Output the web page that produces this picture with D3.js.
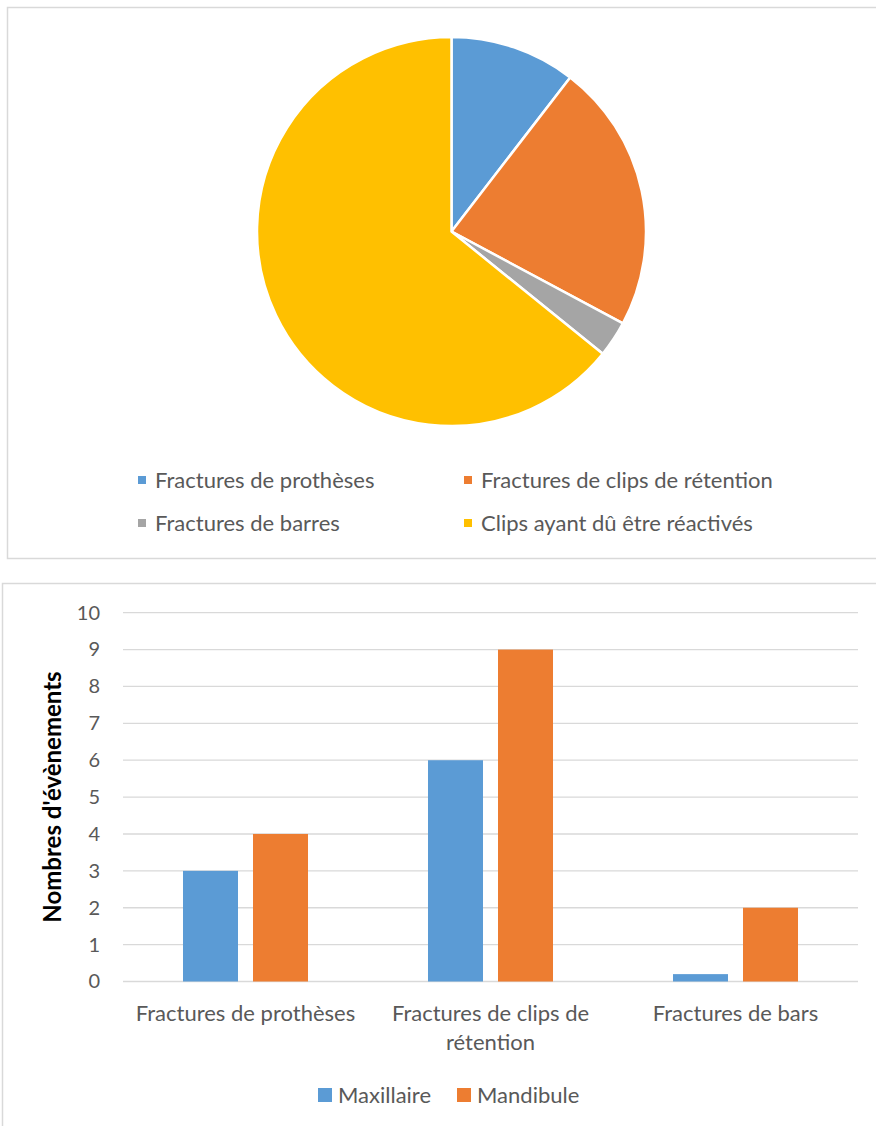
<!DOCTYPE html>
<html>
<head>
<meta charset="utf-8">
<script src="https://cdn.jsdelivr.net/npm/d3@7"></script>
<style>
  body { margin: 0; background: #fff; }
  svg { display: block; font-family: Lato, "Open Sans", sans-serif; }
</style>
</head>
<body>
<div id="chart"></div>
<script>
// pie data
var pieLabels = ["Fractures de prothèses", "Fractures de clips de rétention", "Fractures de barres", "Clips ayant dû être réactivés"];
var pieValues = [7, 15, 2, 43];
var pieColors = ["#5B9BD5", "#ED7D31", "#A5A5A5", "#FFC000"];

// bar data
var barCategories = ["Fractures de prothèses", "Fractures de clips de rétention", "Fractures de bars"];
var seriesNames = ["Maxillaire", "Mandibule"];
var maxillaire = [3, 6, 0.2];
var mandibule = [4, 9, 2];
var seriesColors = ["#5B9BD5", "#ED7D31"];
var yTicks = [0, 1, 2, 3, 4, 5, 6, 7, 8, 9, 10];

var W = 876, H = 1126;
var textColor = "#595959";
var gridColor = "#D9D9D9";

var svg = d3.select("#chart").append("svg")
  .attr("width", W)
  .attr("height", H);

// chart frames
svg.append("rect")
  .attr("x", 7.5).attr("y", 7.5)
  .attr("width", 880).attr("height", 551)
  .attr("fill", "none").attr("stroke", gridColor).attr("stroke-width", 1.5);

svg.append("rect")
  .attr("x", 2.5).attr("y", 583.5)
  .attr("width", 890).attr("height", 560)
  .attr("fill", "none").attr("stroke", gridColor).attr("stroke-width", 1.5);

drawPie();
drawBars();

function drawPie() {
  var cx = 451.5, cy = 231.5, r = 194.5;
  var pie = d3.pie().sort(null).value(function(d) { return d; });
  var arc = d3.arc().innerRadius(0).outerRadius(r);

  var g = svg.append("g").attr("transform", "translate(" + cx + "," + cy + ")");
  g.selectAll("path")
    .data(pie(pieValues))
    .enter().append("path")
      .attr("d", arc)
      .attr("fill", function(d, i) { return pieColors[i]; })
      .attr("stroke", "#fff")
      .attr("stroke-width", 2.5)
      .attr("stroke-linejoin", "round");

  // legend, 2 columns
  var colX = [138, 464];
  var rowY = [480, 523];
  var leg = svg.append("g").attr("class", "pie-legend");
  pieLabels.forEach(function(lab, i) {
    var x = colX[i % 2], y = rowY[Math.floor(i / 2)];
    leg.append("rect")
      .attr("x", x).attr("y", y - 4)
      .attr("width", 8).attr("height", 8)
      .attr("fill", pieColors[i]);
    leg.append("text")
      .attr("x", x + 17).attr("y", y)
      .attr("dy", "0.35em")
      .attr("fill", textColor)
      .style("font-size", "22px")
      .text(lab);
  });
}

function drawBars() {
  var left = 123, right = 858, top = 612.7, bottom = 981.5;

  var x0 = d3.scaleBand().domain(barCategories).range([left, right]).padding(0);
  var x1 = d3.scaleBand().domain(seriesNames).range([0, x0.bandwidth()])
    .paddingInner(0.2143).paddingOuter(0.857);
  var y = d3.scaleLinear().domain([0, 10]).range([bottom, top]);

  // gridlines
  svg.append("g").selectAll("line")
    .data(yTicks)
    .enter().append("line")
      .attr("x1", left).attr("x2", right)
      .attr("y1", function(d) { return y(d); })
      .attr("y2", function(d) { return y(d); })
      .attr("stroke", gridColor)
      .attr("stroke-width", 1.3);

  // y axis labels
  var yAxis = d3.axisLeft(y).tickValues(yTicks).tickSize(0).tickPadding(0);
  var ya = svg.append("g").attr("transform", "translate(100,0)").call(yAxis);
  ya.select(".domain").remove();
  ya.selectAll("text")
    .attr("fill", textColor)
    .style("font-size", "20px")
    .style("font-family", "Lato, 'Open Sans', sans-serif");

  // bars
  var rows = barCategories.map(function(c, i) {
    return [maxillaire[i], mandibule[i]];
  });
  var groups = svg.append("g").selectAll("g")
    .data(rows)
    .enter().append("g")
      .attr("transform", function(d, i) { return "translate(" + x0(barCategories[i]) + ",0)"; });
  groups.selectAll("rect")
    .data(function(d) { return d; })
    .enter().append("rect")
      .attr("x", function(d, j) { return x1(seriesNames[j]); })
      .attr("width", x1.bandwidth())
      .attr("y", function(d) { return y(d); })
      .attr("height", function(d) { return y(0) - y(d); })
      .attr("fill", function(d, j) { return seriesColors[j]; });

  // x axis labels
  var xAxis = d3.axisBottom(x0).tickSize(0).tickPadding(0);
  var xa = svg.append("g").attr("transform", "translate(0," + 1005 + ")").call(xAxis);
  xa.select(".domain").remove();
  xa.selectAll("text")
    .attr("fill", textColor)
    .style("font-size", "22px")
    .style("font-family", "Lato, 'Open Sans', sans-serif")
    .call(wrap, 235);

  // y axis title
  svg.append("text")
    .attr("transform", "translate(53,797) rotate(-90)")
    .attr("text-anchor", "middle")
    .attr("dy", "0.35em")
    .attr("fill", "#000")
    .style("font-size", "24px")
    .style("font-weight", "bold")
    .text("Nombres d'évènements");

  // legend
  var legX = [318, 457];
  var leg = svg.append("g");
  seriesNames.forEach(function(s, i) {
    leg.append("rect")
      .attr("x", legX[i]).attr("y", 1088)
      .attr("width", 14).attr("height", 14)
      .attr("fill", seriesColors[i]);
    leg.append("text")
      .attr("x", legX[i] + 20).attr("y", 1095)
      .attr("dy", "0.35em")
      .attr("fill", textColor)
      .style("font-size", "22px")
      .text(s);
  });
}

function wrap(sel, width) {
  sel.each(function() {
    var text = d3.select(this);
    var words = text.text().split(/\s+/);
    var x = text.attr("x") || 0;
    var dy = parseFloat(text.attr("dy")) || 0;
    text.text(null);
    var line = [];
    var tspan = text.append("tspan").attr("x", x).attr("dy", dy + "em");
    words.forEach(function(w) {
      line.push(w);
      tspan.text(line.join(" "));
      if (tspan.node().getComputedTextLength() > width && line.length > 1) {
        line.pop();
        tspan.text(line.join(" "));
        line = [w];
        tspan = text.append("tspan").attr("x", x).attr("dy", "1.32em").text(w);
      }
    });
  });
}
</script>
</body>
</html>
